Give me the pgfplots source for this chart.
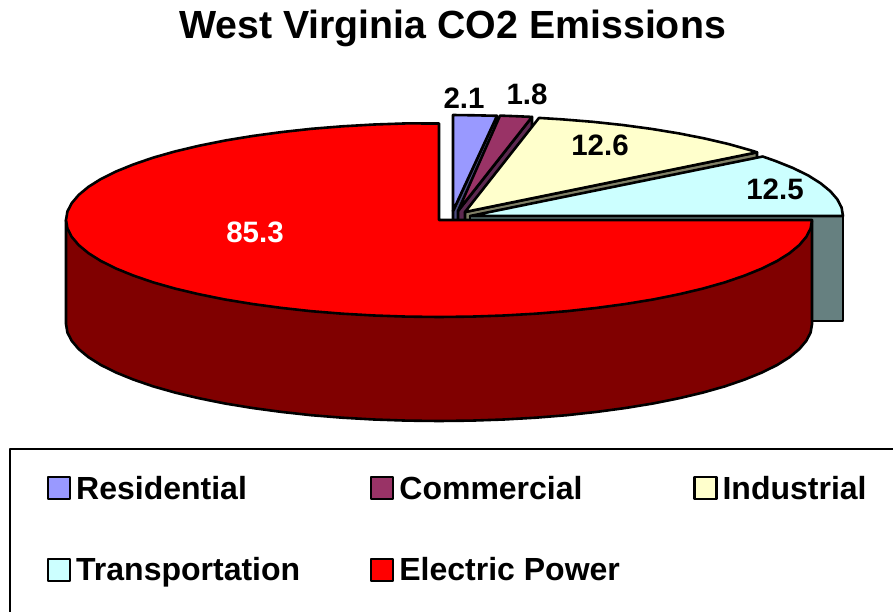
\documentclass[border=0pt]{standalone}
\usepackage{fontspec}
\setmainfont{Liberation Sans}
\usepackage{pgfplots}
\pgfplotsset{compat=1.18}
\definecolor{cres}{HTML}{9999FF}
\definecolor{ccom}{HTML}{993366}
\definecolor{cind}{HTML}{FFFFCC}
\definecolor{ctra}{HTML}{CCFFFF}
\definecolor{cele}{HTML}{FF0000}
\definecolor{sres}{HTML}{4D4D80}
\definecolor{scom}{HTML}{5C2850}
\definecolor{sind}{HTML}{808066}
\definecolor{stra}{HTML}{668080}
\definecolor{sele}{HTML}{800000}
\newcommand{\fs}[1]{\fontsize{#1}{#1}\selectfont\bfseries}
\begin{document}
\begin{tikzpicture}
\useasboundingbox (0,0) rectangle (893pt,611pt);
\begin{axis}[
  scale only axis, width=893pt, height=611pt,
  xmin=0, xmax=893, ymin=0, ymax=611, y dir=reverse,
  hide axis, clip=true,
  every axis plot/.append style={draw=black, line width=2.6pt, line join=round, mark=none},
  legend style={at={(axis cs:47,476)}, anchor=north west, draw=none, fill=none, inner sep=0pt, outer sep=0pt,
    font=\fs{32}, row sep=57pt, nodes={inner sep=0pt, outer sep=0pt},
    /tikz/every even column/.append style={column sep=8pt}},
  legend columns=3,
  legend cell align=left,
  legend image code/.code={\draw[#1, line width=2.2pt] (0pt,-11pt) rectangle (22pt,11pt);},
]
% legend frame (runs off the page to the right and below)
\addplot[forget plot, fill=none] coordinates {(900,449) (10,449) (10,620)};
% residential
\addplot[forget plot, fill=sres] coordinates {(453,211) (497,116) (497,220) (453,315)} -- cycle;
\addplot[fill=cres] coordinates {(453,115) (475,115.3) (497,115.8) (453,211)} -- cycle;
% commercial
\addplot[forget plot, fill=scom] coordinates {(458,211) (532,116.9) (532,221) (458,315)} -- cycle;
\addplot[fill=ccom] coordinates {(500,115.6) (516,116.2) (532,116.9) (458,211)} -- cycle;
% industrial
\addplot[forget plot, fill=sind] coordinates {(465,212) (757,152.3) (757,256) (465,316)} -- cycle;
\addplot[fill=cind] coordinates {(757,152.3) (750.7,150.3) (728.8,144.1) (704.8,138.5) (678.9,133.4) (651.5,128.9) (622.6,125) (592.6,121.8) (561.5,119.3) (539,117.9) (465,212)} -- cycle;
% transportation
\addplot[forget plot, fill=stra] coordinates {(470,216) (843,216) (843,321) (470,321)} -- cycle;
\addplot[fill=ctra] coordinates {(843,216) (841.6,207.6) (837.3,199.3) (830.3,191.2) (820.5,183.2) (808.1,175.4) (793,168) (775.5,161) (762.7,156.5) (470,216)} -- cycle;
% electric power
\addplot[forget plot, fill=sele] coordinates {(812,221) (812,324) (810.6,332.5) (806.3,340.8) (799.3,349.1) (789.5,357.2) (777.1,365) (762,372.5) (744.5,379.6) (724.7,386.4) (702.8,392.6) (678.8,398.3) (652.9,403.5) (625.5,408) (596.6,411.9) (566.6,415.2) (535.5,417.7) (503.8,419.5) (471.5,420.6) (439,421) (406.5,420.6) (374.2,419.5) (342.5,417.7) (311.4,415.2) (281.4,411.9) (252.5,408) (225.1,403.5) (199.2,398.3) (175.2,392.6) (153.3,386.4) (133.5,379.6) (116,372.5) (100.9,365) (88.5,357.2) (78.7,349.1) (71.7,340.8) (67.4,332.5) (66,324) (66,220)} -- cycle;
\addplot[fill=cele] coordinates {(812,220) (810.6,228.5) (806.3,236.8) (799.3,245.1) (789.5,253.2) (777.1,261) (762,268.5) (744.5,275.6) (724.7,282.4) (702.8,288.6) (678.8,294.3) (652.9,299.5) (625.5,304) (596.6,307.9) (566.6,311.2) (535.5,313.7) (503.8,315.5) (471.5,316.6) (439,317) (406.5,316.6) (374.2,315.5) (342.5,313.7) (311.4,311.2) (281.4,307.9) (252.5,304) (225.1,299.5) (199.2,294.3) (175.2,288.6) (153.3,282.4) (133.5,275.6) (116,268.5) (100.9,261) (88.5,253.2) (78.7,245.1) (71.7,236.8) (67.4,228.5) (66,220) (67.4,211.5) (71.7,203.2) (78.7,194.9) (88.5,186.8) (100.9,179) (116,171.5) (133.5,164.4) (153.3,157.6) (175.2,151.4) (199.2,145.7) (225.1,140.5) (252.5,136) (281.4,132.1) (311.4,128.8) (342.5,126.3) (374.2,124.5) (406.5,123.4) (439,123.5) (439,220)} -- cycle;
\legend{\makebox[291pt][l]{\hspace*{5pt}Residential},\makebox[291pt][l]{\hspace*{5pt}Commercial},\hspace*{5pt}Industrial,\hspace*{5pt}Transportation,\hspace*{5pt}Electric Power}
\node[font=\fs{39.3}] at (axis cs:452.5,28) {West Virginia CO2 Emissions};
\node[font=\fs{29.5}, text=white] at (axis cs:255,232) {85.3};
\node[font=\fs{29.5}] at (axis cs:464,98) {2.1};
\node[font=\fs{29.5}] at (axis cs:527,94) {1.8};
\node[font=\fs{29.5}] at (axis cs:600,145) {12.6};
\node[font=\fs{29.5}] at (axis cs:775,189) {12.5};
\end{axis}
\end{tikzpicture}
\end{document}
